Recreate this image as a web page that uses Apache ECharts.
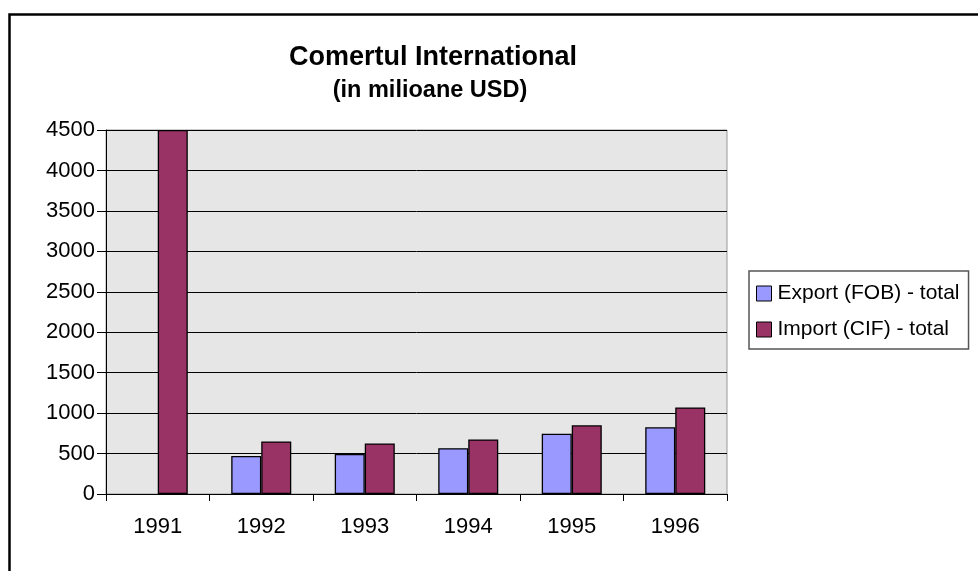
<!DOCTYPE html>
<html><head><meta charset="utf-8">
<script src="https://cdn.jsdelivr.net/npm/echarts@6/dist/echarts.min.js"></script>
<style>html,body{margin:0;padding:0;background:#fff}#c{width:978px;height:571px}</style>
</head><body><div id="c"></div>
<script>
var years = ['1991','1992','1993','1994','1995','1996'];
var exportVals = [null, 470, 495, 567, 746, 825];
var importVals = [4500, 650, 625, 675, 850, 1070];
var yTicks = [0, 500, 1000, 1500, 2000, 2500, 3000, 3500, 4000, 4500];

var chart = echarts.init(document.getElementById('c'));
var F = 'Liberation Sans, Arial, sans-serif';
chart.setOption({
  animation: false,
  backgroundColor: '#fff',
  graphic: [{
    type: 'rect', left: 7, top: 12, shape: {width: 1000, height: 620},
    style: {fill: 'none', stroke: '#000', lineWidth: 2.5}, silent: true
  }],
  title: [{
    text: 'Comertul International', left: 428, top: 39, textAlign: 'center',
    textStyle: {fontFamily: F, fontSize: 27, fontWeight: 'bold', color: '#000'}
  }, {
    text: '(in milioane USD)', left: 425, top: 74, textAlign: 'center',
    textStyle: {fontFamily: F, fontSize: 23.5, fontWeight: 'bold', color: '#000'}
  }],
  legend: {
    orient: 'vertical', left: 749, top: 271,
    data: ['Export (FOB) - total', 'Import (CIF) - total'],
    borderColor: '#555', borderWidth: 1.5, padding: [12, 9, 9, 7], itemGap: 15,
    itemWidth: 15, itemHeight: 15, icon: 'rect',
    itemStyle: {borderColor: '#000', borderWidth: 1},
    textStyle: {fontFamily: F, fontSize: 21, color: '#000', padding: [0, 0, 0, 1]}
  },
  grid: {left: 106, right: 251, top: 130, bottom: 77, show: true,
    backgroundColor: '#e6e6e6', borderColor: '#999', borderWidth: 1},
  xAxis: {
    type: 'category', data: years, boundaryGap: true,
    axisLine: {lineStyle: {color: '#000', width: 1}},
    axisTick: {show: true, length: 7, interval: 0, lineStyle: {color: '#000'}},
    axisLabel: {fontFamily: F, fontSize: 22, color: '#000', margin: 22}
  },
  yAxis: {
    type: 'value', min: yTicks[0], max: yTicks[yTicks.length - 1], interval: 500,
    axisLine: {show: true, lineStyle: {color: '#000', width: 1}},
    axisTick: {show: true, length: 9, lineStyle: {color: '#000'}},
    axisLabel: {fontFamily: F, fontSize: 22, color: '#000', margin: 11,
      formatter: function (v) { return String(v); }},
    splitLine: {lineStyle: {color: '#000', width: 1}}
  },
  series: [{
    name: 'Export (FOB) - total', type: 'bar', data: exportVals,
    barGap: '0%', barCategoryGap: '42%',
    itemStyle: {color: '#9999ff', borderColor: '#000', borderWidth: 1.3}
  }, {
    name: 'Import (CIF) - total', type: 'bar', data: importVals,
    barGap: '0%', barCategoryGap: '42%',
    itemStyle: {color: '#993366', borderColor: '#000', borderWidth: 1.3}
  }]
});
</script></body></html>
